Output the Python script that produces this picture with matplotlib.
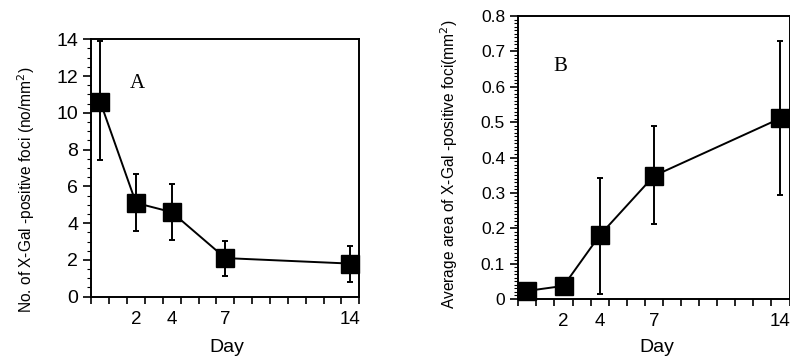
import numpy as np
import matplotlib
matplotlib.use("Agg")
import matplotlib.pyplot as plt
from matplotlib.ticker import MultipleLocator, FixedLocator

plt.rcParams["font.family"] = ["Liberation Sans", "DejaVu Sans"]

days = [0, 2, 4, 7, 14]
day_labels = ["", "2", "4", "7", "14"]

# panel A: number of foci
count_mean = [10.6, 5.1, 4.6, 2.1, 1.8]
count_hi = [13.9, 6.65, 6.15, 3.05, 2.75]
count_lo = [7.45, 3.55, 3.1, 1.1, 0.82]

# panel B: average area of foci
area_mean = [0.023, 0.037, 0.18, 0.348, 0.511]
area_hi = [0.023, 0.037, 0.342, 0.488, 0.728]
area_lo = [0.023, 0.037, 0.014, 0.211, 0.293]


def draw_panel(ax, mean, lo, hi, yticks, minor_step, ylabel, letter, letter_xy):
    mean = np.array(mean)
    yerr = [mean - np.array(lo), np.array(hi) - mean]
    ax.errorbar(
        days, mean, yerr=yerr,
        color="black", linewidth=1.4, elinewidth=1.4,
        capsize=2.5, capthick=1.4,
        marker="s", markersize=12.5, markerfacecolor="black",
        markeredgecolor="black", clip_on=False, zorder=3,
    )
    ax.set_xlim(-0.5, 14.5)
    ax.set_ylim(yticks[0], yticks[-1])

    ax.xaxis.set_major_locator(FixedLocator(days))
    ax.set_xticklabels(day_labels)
    ax.xaxis.set_minor_locator(FixedLocator(np.arange(-0.5, 14.6, 1.0)))
    ax.tick_params(axis="x", which="major", length=0, pad=10, labelsize=13.5)
    ax.tick_params(axis="x", which="minor", direction="out", length=5, width=1.2)

    ax.set_yticks(yticks)
    ax.yaxis.set_minor_locator(MultipleLocator(minor_step))
    ax.tick_params(axis="y", which="major", direction="out", length=6, width=1.2)
    ax.tick_params(axis="y", which="minor", direction="out", length=3, width=0.8)

    for spine in ax.spines.values():
        spine.set_linewidth(1.4)

    ax.set_ylabel(ylabel, fontsize=11.2)
    ax.set_xlabel("Day", fontsize=14)
    ax.text(letter_xy[0], letter_xy[1], letter, fontsize=15,
            family=["Liberation Serif", "DejaVu Serif"], ha="center", va="center")


fig = plt.figure(figsize=(7.9, 3.56), dpi=100)

ax_a = fig.add_axes((0.1156, 0.1666, 0.3392, 0.7230))
draw_panel(
    ax_a, count_mean, count_lo, count_hi,
    [0, 2, 4, 6, 8, 10, 12, 14], 0.5,
    "No. of X-Gal -positive foci (no/mm$^2$)", "A", (2.1, 11.6),
)
ax_a.tick_params(axis="y", labelsize=14)
ax_a.yaxis.set_label_coords(-0.202, 0.415)
ax_a.xaxis.set_label_coords(0.506, -0.165)

ax_b = fig.add_axes((0.6561, 0.1601, 0.3433, 0.7949))
draw_panel(
    ax_b, area_mean, area_lo, area_hi,
    [0, 0.1, 0.2, 0.3, 0.4, 0.5, 0.6, 0.7, 0.8], 0.01,
    "Average area of X-Gal -positive foci(mm$^2$)", "B", (1.85, 0.658),
)
ax_b.set_yticklabels(["0", "0.1", "0.2", "0.3", "0.4", "0.5", "0.6", "0.7", "0.8"])
ax_b.tick_params(axis="y", labelsize=12.5)
ax_b.yaxis.set_label_coords(-0.215, 0.477)
ax_b.xaxis.set_label_coords(0.51, -0.14)

fig.savefig("out.png", dpi=100)
